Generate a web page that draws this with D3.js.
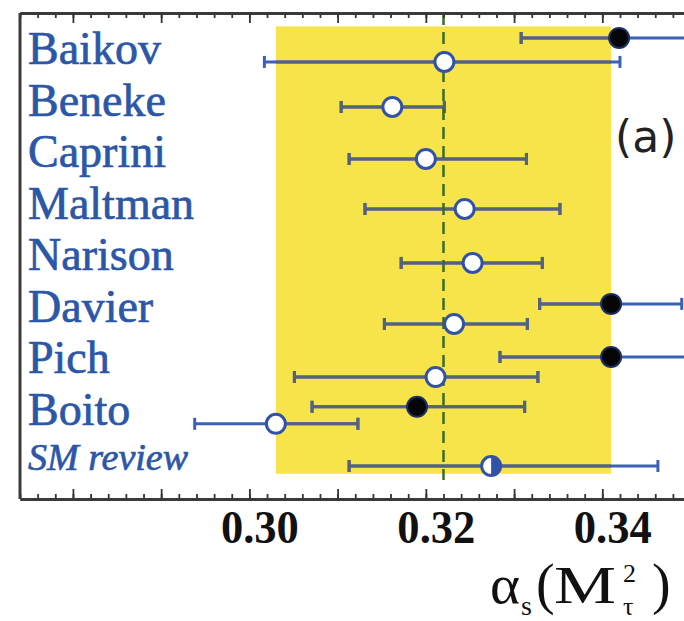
<!DOCTYPE html>
<html>
<head>
<meta charset="utf-8">
<script src="https://cdn.jsdelivr.net/npm/d3@7"></script>
<style>
  html, body { margin: 0; padding: 0; background: #fff; }
  svg { display: block; }
</style>
</head>
<body>
<svg id="chart" width="684" height="621"></svg>
<script>
// Determinations of the strong coupling at the tau mass
const labels   = ["Baikov", "Beneke", "Caprini", "Maltman", "Narison", "Davier", "Pich", "Boito", "SM review"];
const labelRow = [1, 2, 3, 4, 5, 6, 7, 8, 8.87];

// open circles
const openGroup = ["Baikov", "Beneke", "Caprini", "Maltman", "Narison", "Davier", "Pich", "Boito"];
const openValue = [0.3221, 0.3162, 0.3200, 0.3244, 0.3253, 0.3232, 0.3211, 0.3030];
const openLow   = [0.3017, 0.3104, 0.3113, 0.3131, 0.3172, 0.3153, 0.3051, 0.2938];
const openHigh  = [0.3420, 0.3221, 0.3314, 0.3352, 0.3332, 0.3315, 0.3327, 0.3123];
const openRow   = [0.95, 1.825, 2.835, 3.806, 4.854, 6.04, 7.07, 7.98];

// filled circles
const filledGroup = ["Baikov", "Davier", "Pich", "Boito"];
const filledValue = [0.3419, 0.3410, 0.3410, 0.3190];
const filledLow   = [0.3308, 0.3329, 0.3284, 0.3071];
const filledHigh  = [0.3530, 0.3490, 0.3540, 0.3312];
const filledRow   = [0.485, 5.65, 6.68, 7.65];

// review value (half-filled marker)
const reviewValue = [0.3274];
const reviewLow   = [0.3113];
const reviewHigh  = [0.3463];
const reviewRow   = [8.80];

// average and its uncertainty band
const avgValue = 0.322;
const avgLow   = 0.303;
const avgHigh  = 0.341;

// axis
const tickValues = [0.30, 0.32, 0.34];
const tickLabels = ["0.30", "0.32", "0.34"];
const xDomain = [0.274, 0.353];
const rowDomain = [0, 9.44];

(function draw() {
  const svg = d3.select("#chart");
  const W = 684, H = 621;
  const plotLeft = 20, plotTop = 13, plotBottom = 499;
  const x = d3.scaleLinear().domain(xDomain)
    .range([plotLeft, plotLeft + (xDomain[1] - xDomain[0]) * 8823]);
  const y = d3.scaleLinear().domain(rowDomain).range([plotTop, plotBottom]);

  const BLUE = "#3a62b4";
  const BAR_ON_BAND = "#55617f";
  const TEXT_BLUE = "#2c57a7";

  svg.append("rect").attr("width", W).attr("height", H).attr("fill", "#fff");

  // uncertainty band of the average
  const bandY0 = y(0.26), bandY1 = y(8.95);
  svg.append("rect")
    .attr("x", x(avgLow)).attr("y", bandY0)
    .attr("width", x(avgHigh) - x(avgLow)).attr("height", bandY1 - bandY0)
    .attr("fill", "#f6e44a");

  svg.append("defs").append("clipPath").attr("id", "bandClip")
    .append("rect")
    .attr("x", x(avgLow)).attr("y", bandY0)
    .attr("width", x(avgHigh) - x(avgLow)).attr("height", bandY1 - bandY0);

  // all error bars
  const bars = [];
  openValue.forEach((v, i) => bars.push({ lo: openLow[i], hi: openHigh[i], row: openRow[i] }));
  filledValue.forEach((v, i) => bars.push({ lo: filledLow[i], hi: filledHigh[i], row: filledRow[i] }));
  reviewValue.forEach((v, i) => bars.push({ lo: reviewLow[i], hi: reviewHigh[i], row: reviewRow[i] }));

  function drawBars(g, color) {
    g.selectAll("line.bar").data(bars).join("line")
      .attr("class", "bar")
      .attr("x1", d => x(d.lo)).attr("x2", d => x(d.hi))
      .attr("y1", d => y(d.row)).attr("y2", d => y(d.row))
      .attr("stroke", color).attr("stroke-width", 3);
    g.selectAll("line.capL").data(bars).join("line")
      .attr("class", "capL")
      .attr("x1", d => x(d.lo)).attr("x2", d => x(d.lo))
      .attr("y1", d => y(d.row) - 6).attr("y2", d => y(d.row) + 6)
      .attr("stroke", color).attr("stroke-width", 3);
    g.selectAll("line.capR").data(bars).join("line")
      .attr("class", "capR")
      .attr("x1", d => x(d.hi)).attr("x2", d => x(d.hi))
      .attr("y1", d => y(d.row) - 6).attr("y2", d => y(d.row) + 6)
      .attr("stroke", color).attr("stroke-width", 3);
  }
  drawBars(svg.append("g"), BLUE);
  drawBars(svg.append("g").attr("clip-path", "url(#bandClip)"), BAR_ON_BAND);

  // central value of the average
  svg.append("line")
    .attr("x1", x(avgValue)).attr("x2", x(avgValue))
    .attr("y1", plotTop).attr("y2", y(9.07))
    .attr("stroke", "#3d6a25").attr("stroke-width", 2.5)
    .attr("stroke-dasharray", "12,7");

  // markers
  svg.append("g").selectAll("circle").data(openValue).join("circle")
    .attr("cx", d => x(d)).attr("cy", (d, i) => y(openRow[i])).attr("r", 9.5)
    .attr("fill", "#fff").attr("stroke", "#3253a5").attr("stroke-width", 3);

  svg.append("g").selectAll("circle").data(filledValue).join("circle")
    .attr("cx", d => x(d)).attr("cy", (d, i) => y(filledRow[i])).attr("r", 10)
    .attr("fill", "#050505").attr("stroke", "#1c2f66").attr("stroke-width", 2);

  const rg = svg.append("g");
  reviewValue.forEach((v, i) => {
    const cx = x(v), cy = y(reviewRow[i]), r = 9.5;
    rg.append("circle").attr("cx", cx).attr("cy", cy).attr("r", r)
      .attr("fill", "#fff").attr("stroke", "#3253a5").attr("stroke-width", 3);
    rg.append("path")
      .attr("d", `M${cx},${cy - r} A${r},${r} 0 0 1 ${cx},${cy + r} Z`)
      .attr("fill", "#3253a5");
  });

  // row labels
  svg.append("g").selectAll("text").data(labels).join("text")
    .attr("x", 28).attr("y", (d, i) => y(labelRow[i]))
    .attr("font-family", "'Liberation Serif', 'Times New Roman', serif")
    .attr("font-size", (d, i) => i === labels.length - 1 ? 38 : 46)
    .attr("font-style", (d, i) => i === labels.length - 1 ? "italic" : "normal")
    .attr("fill", TEXT_BLUE)
    .attr("stroke", TEXT_BLUE).attr("stroke-width", 0.7)
    .text(d => d);

  // panel tag
  svg.append("text").attr("x", 615).attr("y", 152)
    .attr("font-family", "'DejaVu Sans', sans-serif").attr("font-size", 44)
    .attr("fill", "#222").text("(a)");

  // frame with inward ticks
  const minor = d3.range(0.274, 0.3531, 0.002).map(v => +v.toFixed(3));
  const major = d3.range(0.28, 0.3501, 0.01).map(v => +v.toFixed(2));

  const axB = svg.append("g").attr("transform", `translate(0,${plotBottom})`);
  axB.call(d3.axisBottom(x).tickValues(minor).tickSize(-5).tickSizeOuter(0).tickFormat(""));
  const axB2 = svg.append("g").attr("transform", `translate(0,${plotBottom})`);
  axB2.call(d3.axisBottom(x).tickValues(major).tickSize(-10).tickSizeOuter(0).tickFormat(""));
  const axT = svg.append("g").attr("transform", `translate(0,${plotTop})`);
  axT.call(d3.axisTop(x).tickValues(minor).tickSize(-5).tickSizeOuter(0).tickFormat(""));
  const axT2 = svg.append("g").attr("transform", `translate(0,${plotTop})`);
  axT2.call(d3.axisTop(x).tickValues(major).tickSize(-10).tickSizeOuter(0).tickFormat(""));
  [axB, axB2, axT, axT2].forEach(g => {
    g.selectAll(".tick line").attr("stroke", "#333").attr("stroke-width", 1.8);
    g.select(".domain").attr("stroke", "#3a3a3a").attr("stroke-width", 3);
  });
  svg.append("line").attr("x1", plotLeft).attr("x2", plotLeft)
    .attr("y1", plotTop).attr("y2", plotBottom)
    .attr("stroke", "#3a3a3a").attr("stroke-width", 3);

  // tick labels
  const axL = svg.append("g").attr("transform", `translate(0,${plotBottom})`);
  axL.call(d3.axisBottom(x).tickValues(tickValues).tickSize(0)
    .tickFormat((d, i) => tickLabels[i]));
  axL.select(".domain").remove();
  axL.selectAll(".tick text")
    .attr("y", 0).attr("dy", 44).attr("dx", 10)
    .attr("font-family", "'Liberation Serif', 'Times New Roman', serif")
    .attr("font-weight", "bold").attr("font-size", 46)
    .attr("textLength", 78).attr("lengthAdjust", "spacingAndGlyphs")
    .attr("fill", "#111");

  // axis title: alpha_s(M_tau^2), one text element with positioned pieces
  const title = svg.append("text").attr("fill", "#111")
    .attr("font-family", "'Liberation Serif', 'Times New Roman', serif");
  title.append("tspan").attr("x", 490).attr("y", 603).attr("font-size", 54)
    .attr("textLength", 30).attr("lengthAdjust", "spacingAndGlyphs").text("α");
  title.append("tspan").attr("x", 521).attr("y", 615).attr("font-size", 28).text("s");
  title.append("tspan").attr("x", 536).attr("y", 603).attr("font-size", 56).text("(");
  title.append("tspan").attr("x", 554).attr("y", 603).attr("font-size", 52)
    .attr("textLength", 62).attr("lengthAdjust", "spacingAndGlyphs").text("M");
  title.append("tspan").attr("x", 623).attr("y", 582).attr("font-size", 26).text("2");
  title.append("tspan").attr("x", 623).attr("y", 614.5).attr("font-size", 26).text("τ");
  title.append("tspan").attr("x", 652).attr("y", 603).attr("font-size", 56).text(")");
})();
</script>
</body>
</html>
